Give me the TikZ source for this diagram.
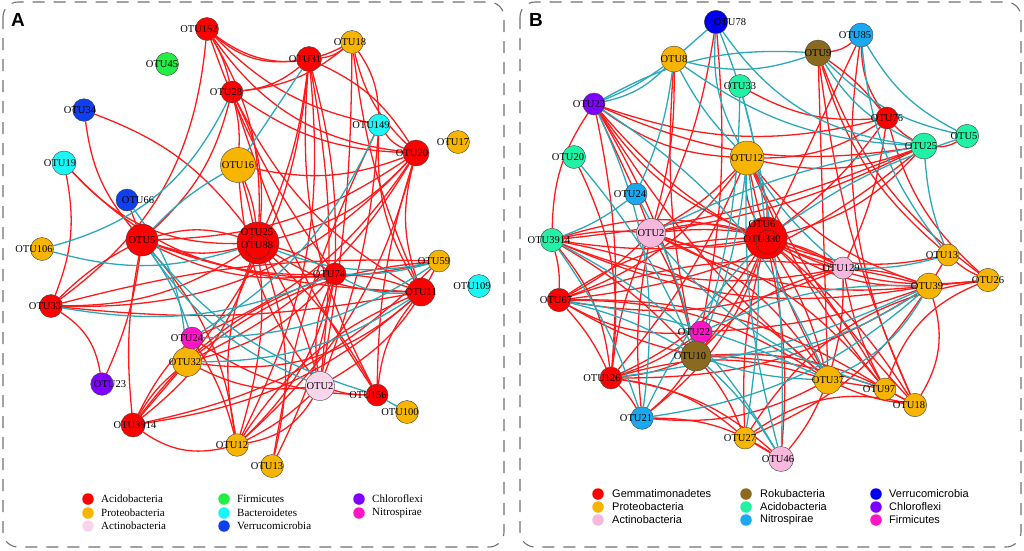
\documentclass[tikz,border=0pt]{standalone}
\usepackage{fontspec}
\setmainfont{Liberation Serif}
\newfontfamily\sansf{Liberation Sans}
\usetikzlibrary{backgrounds}
\definecolor{cRed}{HTML}{FF0000}
\definecolor{cOrange}{HTML}{F7B500}
\definecolor{cActA}{HTML}{F9D5EC}
\definecolor{cActB}{HTML}{F7B8DD}
\definecolor{cGreen}{HTML}{22EE44}
\definecolor{cCyan}{HTML}{1CF5F5}
\definecolor{cVerA}{HTML}{0F3FEF}
\definecolor{cPurple}{HTML}{8000FF}
\definecolor{cMag}{HTML}{FF14C8}
\definecolor{cBrown}{HTML}{8B6A1F}
\definecolor{cAcidB}{HTML}{22F0A5}
\definecolor{cNitB}{HTML}{1AA8F0}
\definecolor{cVerB}{HTML}{0000EE}
\definecolor{eRed}{HTML}{FF1A1A}
\definecolor{eTeal}{HTML}{2AA9B9}
\definecolor{panelgray}{HTML}{707070}
\tikzset{
  otu/.style={circle, draw=black!75, line width=0.4pt, inner sep=0pt},
  lab/.style={inner sep=0pt, font=\fontsize{10.5}{10.5}\selectfont},
  re/.style={draw=eRed, line width=1.3pt},
  te/.style={draw=eTeal, line width=1.3pt},
  panel/.style={draw=panelgray, line width=1.1pt, dash pattern=on 12pt off 9pt, rounded corners=15pt},
  legdot/.style={circle, inner sep=0pt, minimum size=11.5pt},
  legA/.style={anchor=west, inner sep=0pt, font=\fontsize{11}{11}\selectfont},
  legB/.style={anchor=west, inner sep=0pt, font=\sansf\fontsize{11}{11}\selectfont},
  letter/.style={inner sep=0pt, font=\sansf\bfseries\fontsize{19}{19}\selectfont}
}
\newcommand\mkotu[7]{%
  \node[otu, fill=#5, minimum size=#4*2pt] (#1) at (#2,#3) {};
  \node[lab] at ({#2#6},#3) {#7};}
\begin{document}
\begin{tikzpicture}[x=1pt,y=-1pt]
\useasboundingbox (0,0) rectangle (1024,550);
\draw[panel] (3,2) rectangle (504,547);
\draw[panel] (520,2) rectangle (1021,547);
\node[letter] (LA) at (18,20) {A};
\node[letter] (LB) at (536,20) {B};
% ---------------- Panel A nodes
\mkotu{A152}{207}{29}{11.5}{cRed}{-8}{OTU152}
\mkotu{A45}{167}{64}{11.5}{cGreen}{-5}{OTU45}
\mkotu{A31}{309}{59}{12.5}{cRed}{-4}{OTU31}
\mkotu{A18}{352}{42}{11.5}{cOrange}{-2}{OTU18}
\mkotu{A28}{232}{92}{11}{cRed}{-6}{OTU28}
\mkotu{A34}{84}{110}{11.3}{cVerA}{-4}{OTU34}
\mkotu{A149}{379}{125}{11}{cCyan}{-8}{OTU149}
\mkotu{A17}{458}{142}{11.5}{cOrange}{-5}{OTU17}
\mkotu{A19}{64}{163}{12}{cCyan}{-4}{OTU19}
\mkotu{A16}{238}{165}{17.5}{cOrange}{+0}{OTU16}
\mkotu{A20}{416}{153}{13}{cRed}{-4}{OTU20}
\mkotu{A66}{127}{200}{11}{cVerA}{+11}{OTU66}
\mkotu{A5}{142}{240}{16}{cRed}{+0}{OTU5}
\node[otu, fill=cRed, minimum size=42pt] (A25) at (258,243) {};
\node[otu, draw=black!80, minimum size=24pt] (A88) at (258,247) {};
\node[lab] at (257,232) {OTU25};
\node[lab] at (257,245) {OTU88};
\mkotu{A106}{42}{249}{11.5}{cOrange}{-8}{OTU106}
\mkotu{A59}{439}{261}{11}{cOrange}{-5}{OTU59}
\mkotu{A74}{335}{274}{11}{cRed}{-6}{OTU74}
\mkotu{A11}{421}{292}{14}{cRed}{+0}{OTU11}
\mkotu{A109}{479}{286}{11.5}{cCyan}{-7}{OTU109}
\mkotu{A33}{51}{306}{11.5}{cRed}{-6}{OTU33}
\mkotu{A32}{187}{362}{14.5}{cOrange}{-2}{OTU32}
\mkotu{A24}{192}{338}{11}{cMag}{-5}{OTU24}
\mkotu{A23}{102}{384}{11.3}{cPurple}{+8}{OTU23}
\mkotu{A2}{320}{386}{14.5}{cActA}{+0}{OTU2}
\mkotu{A156}{377}{395}{11}{cRed}{-9}{OTU156}
\mkotu{A100}{407}{412}{11.5}{cOrange}{-7}{OTU100}
\mkotu{A3914}{133}{425}{12}{cRed}{+2}{OTU3914}
\mkotu{A12}{237}{445}{11.3}{cOrange}{-5}{OTU12}
\mkotu{A13}{272}{466}{11.5}{cOrange}{-5}{OTU13}
% ---------------- Panel B nodes
\mkotu{B78}{716}{22}{11.7}{cVerB}{+14}{OTU78}
\mkotu{B8}{674}{59}{13}{cOrange}{+0}{OTU8}
\mkotu{B9}{818}{53}{13}{cBrown}{+0}{OTU9}
\mkotu{B85}{861}{35}{12}{cNitB}{-6}{OTU85}
\mkotu{B33}{740}{86}{11.5}{cAcidB}{+0}{OTU33}
\mkotu{B23}{594}{104}{11}{cPurple}{-5}{OTU23}
\mkotu{B76}{887}{118}{11}{cRed}{+0}{OTU76}
\mkotu{B5}{967}{136}{11.7}{cAcidB}{-3}{OTU5}
\mkotu{B25}{924}{146}{13}{cAcidB}{-3}{OTU25}
\mkotu{B20}{574}{157}{11.5}{cAcidB}{-6}{OTU20}
\mkotu{B12}{747}{158}{17}{cOrange}{+0}{OTU12}
\mkotu{B24}{636}{194}{11}{cNitB}{-6}{OTU24}
\mkotu{B2}{651}{233}{14.5}{cActB}{+0}{OTU2}
\node[otu, fill=cRed, minimum size=42pt] (B6) at (766,238) {};
\node[otu, draw=black!80, minimum size=24pt] (B330) at (768,242) {};
\node[lab] at (762,224) {OTU6};
\node[lab] at (762,239) {OTU330};
\mkotu{B3914}{552}{240}{11.7}{cAcidB}{-3}{OTU3914}
\mkotu{B129}{843}{268}{11}{cActB}{-2}{OTU129}
\mkotu{B13}{948}{255}{11}{cOrange}{-6}{OTU13}
\mkotu{B39}{929}{286}{13}{cOrange}{-2}{OTU39}
\mkotu{B26}{988}{280}{11.7}{cOrange}{+0}{OTU26}
\mkotu{B67}{559}{300}{11.7}{cRed}{-3}{OTU67}
\mkotu{B22}{701}{332}{11}{cMag}{-7}{OTU22}
\mkotu{B10}{696}{356}{15}{cBrown}{-6}{OTU10}
\mkotu{B126}{611}{378}{11}{cRed}{-9}{OTU126}
\mkotu{B37}{828}{380}{14}{cOrange}{+0}{OTU37}
\mkotu{B97}{885}{389}{11}{cOrange}{-6}{OTU97}
\mkotu{B18}{915}{405}{11.7}{cOrange}{-6}{OTU18}
\mkotu{B21}{642}{418}{11.3}{cNitB}{-6}{OTU21}
\mkotu{B27}{745}{438}{11}{cOrange}{-5}{OTU27}
\mkotu{B46}{781}{459}{12.5}{cActB}{-3}{OTU46}
% ---------------- edges
\begin{pgfonlayer}{background}
\foreach \a/\b/\k in {A152/A31/-15, A152/A18/-20, A152/A149/-10, A152/A20/-15, A152/A28/5, A152/A33/15, A152/A25/10, A152/A74/-5,
 A28/A31/-10, A28/A18/-10, A28/A20/-10, A28/A16/5, A28/A25/10, A28/A5/10, A28/A11/-10, A28/A156/-5,
 A31/A18/-10, A31/A20/10, A31/A74/5, A31/A2/5, A31/A156/-10, A31/A12/10, A31/A32/10, A31/A25/5,
 A18/A149/10, A18/A20/-10, A18/A2/3, A18/A11/-5, A149/A20/-10, A149/A2/5, A149/A13/-5, A149/A11/-10,
 A20/A11/-10, A20/A156/-5, A20/A12/10, A20/A32/10, A20/A16/10, A20/A33/15, A20/A5/10,
 A34/A5/-10, A34/A25/10, A19/A25/-15, A19/A74/-15, A19/A33/10, A66/A5/0,
 A16/A25/5, A16/A12/10, A16/A2/-10, A5/A25/-10, A5/A25/10, A5/A74/-10, A5/A11/-5, A5/A59/-10, A5/A33/-5,
 A5/A12/10, A5/A3914/-5, A5/A23/5, A25/A20/-10, A25/A11/-10, A25/A74/5, A25/A33/10, A25/A3914/10,
 A25/A12/-10, A25/A156/5, A25/A2/5, A25/A13/10, A59/A2/10, A59/A32/-10, A59/A33/-5,
 A74/A11/5, A74/A2/-10, A74/A12/10, A74/A3914/-10, A74/A13/5, A11/A156/-10, A11/A32/15,
 A33/A23/15, A33/A11/-5, A3914/A32/0, A3914/A32/6, A3914/A24/5, A3914/A12/-15, A3914/A11/-10, A3914/A59/-10,
 A24/A12/5, A24/A156/-10, A24/A20/-10, A2/A156/-5, A2/A12/5, A2/A12/15, A2/A32/10, A12/A11/10, A32/A74/-10}
 {\pgfmathsetmacro\kk{1.6*\k}\draw[re] (\a) to[bend left=\kk] (\b);}
\foreach \a/\b/\k in {A28/A106/15, A106/A25/-10, A16/A5/-5, A31/A16/0, A149/A24/10, A25/A59/-10, A5/A2/-10,
 A5/A24/5, A66/A32/10, A33/A74/-10, A74/A59/-5, A74/A11/-10, A156/A100/0, A156/A5/10, A32/A11/-10, A24/A59/-10}
 {\pgfmathsetmacro\kk{1.6*\k}\draw[te] (\a) to[bend left=\kk] (\b);}
\foreach \a/\b/\k in {B78/B2/5, B78/B10/5, B8/B2/5, B8/B10/-5, B9/B85/-10, B9/B76/5, B9/B13/-10, B9/B37/0,
 B9/B26/-10, B9/B18/-5, B85/B6/0, B85/B76/-10, B85/B18/-10, B33/B76/-10,
 B23/B12/-10, B23/B6/-10, B23/B25/-10, B23/B76/-10, B23/B3914/-10, B23/B24/0, B23/B10/5, B23/B126/5, B23/B129/-10, B23/B37/-5,
 B12/B25/-10, B12/B76/-10, B12/B6/10, B12/B6/-10, B12/B37/-5, B12/B97/-5, B12/B67/10, B12/B126/5, B12/B18/-5, B12/B39/-10, B12/B2/5,
 B76/B25/-5, B76/B129/5, B76/B26/-10, B76/B6/5, B25/B5/-10, B25/B2/5, B25/B6/10, B25/B67/10, B25/B3914/5,
 B24/B2/0, B2/B6/-10, B2/B6/10, B2/B3914/-5, B2/B129/10, B2/B37/10, B2/B10/5, B2/B67/5, B2/B126/-5, B2/B21/-5, B2/B39/-10, B2/B97/10,
 B6/B129/5, B6/B39/-10, B6/B37/5, B6/B97/5, B6/B18/5, B6/B10/5, B6/B67/-10, B6/B126/10, B6/B21/10, B6/B27/-5, B6/B46/5,
 B6/B3914/-10, B6/B3914/5, B6/B13/-10, B6/B26/-10,
 B3914/B67/5, B3914/B129/-10, B3914/B37/10, B3914/B39/-10, B3914/B10/5, B3914/B126/10,
 B129/B39/5, B129/B37/5, B129/B97/-5, B129/B10/-10, B129/B67/10, B13/B26/-5, B13/B39/0, B39/B26/0, B39/B18/15, B39/B67/-10,
 B26/B97/-15, B26/B27/-15, B67/B10/-5, B67/B126/5, B67/B37/10, B67/B97/10, B67/B22/-10, B22/B10/0, B22/B39/-5, B22/B126/5,
 B10/B126/5, B10/B21/5, B10/B97/5, B10/B27/5, B10/B18/10, B126/B21/5, B126/B27/10, B126/B37/10, B126/B46/10, B126/B39/-10,
 B21/B46/10, B21/B37/-10, B37/B97/0, B37/B18/-5, B37/B46/5, B97/B18/0, B18/B27/-15, B27/B46/0, B27/B39/-10, B20/B126/10}
 {\pgfmathsetmacro\kk{1.6*\k}\draw[re] (\a) to[bend left=\kk] (\b);}
\foreach \a/\b/\k in {B78/B8/0, B78/B12/-10, B78/B25/-15, B78/B6/5, B8/B23/10, B8/B23/4, B8/B9/-10, B8/B12/-5, B8/B25/-10, B8/B24/5,
 B9/B25/-10, B9/B5/-10, B9/B23/-10, B85/B5/-10, B85/B13/-10, B33/B10/5, B33/B46/5, B23/B37/10, B23/B21/10, B20/B10/5,
 B12/B129/-5, B12/B10/5, B12/B46/-5, B25/B13/-5, B25/B2/-5, B5/B6/-5, B24/B3914/5, B24/B10/5, B129/B13/-5,
 B39/B37/10, B39/B10/10, B39/B126/5, B39/B21/10, B10/B37/-5, B10/B46/5, B3914/B46/10, B3914/B21/5,
 B67/B37/5, B67/B10/5, B2/B97/-10, B12/B27/5, B6/B21/-5, B22/B39/8}
 {\pgfmathsetmacro\kk{1.6*\k}\draw[te] (\a) to[bend left=\kk] (\b);}
\end{pgfonlayer}
% ---------------- legends
\node[legdot, fill=cRed] (la1) at (88,499) {};
\node[legdot, fill=cOrange] (la2) at (88,513) {};
\node[legdot, fill=cActA] (la3) at (88,526) {};
\node[legdot, fill=cGreen] (la4) at (224,499) {};
\node[legdot, fill=cCyan] (la5) at (224,513) {};
\node[legdot, fill=cVerA] (la6) at (224,526) {};
\node[legdot, fill=cPurple] (la7) at (359,499) {};
\node[legdot, fill=cMag] (la8) at (359,513) {};
\node[legA] at (101,499) {Acidobacteria};
\node[legA] at (101,513) {Proteobacteria};
\node[legA] at (101,526) {Actinobacteria};
\node[legA] at (237,499) {Firmicutes};
\node[legA] at (237,513) {Bacteroidetes};
\node[legA] at (237,526) {Verrucomicrobia};
\node[legA] at (372,499) {Chloroflexi};
\node[legA] at (372,513) {Nitrospirae};
\node[legdot, fill=cRed] (lb1) at (598,494) {};
\node[legdot, fill=cOrange] (lb2) at (598,507) {};
\node[legdot, fill=cActB] (lb3) at (598,520) {};
\node[legdot, fill=cBrown] (lb4) at (746,494) {};
\node[legdot, fill=cAcidB] (lb5) at (746,507) {};
\node[legdot, fill=cNitB] (lb6) at (746,520) {};
\node[legdot, fill=cVerB] (lb7) at (876,494) {};
\node[legdot, fill=cPurple] (lb8) at (876,507) {};
\node[legdot, fill=cMag] (lb9) at (876,520) {};
\node[legB] at (612,494) {Gemmatimonadetes};
\node[legB] at (612,507) {Proteobacteria};
\node[legB] at (612,520) {Actinobacteria};
\node[legB] at (760,494) {Rokubacteria};
\node[legB] at (760,507) {Acidobacteria};
\node[legB] at (760,520) {Nitrospirae};
\node[legB] at (889,494) {Verrucomicrobia};
\node[legB] at (889,507) {Chloroflexi};
\node[legB] at (889,520) {Firmicutes};
\end{tikzpicture}
\end{document}
